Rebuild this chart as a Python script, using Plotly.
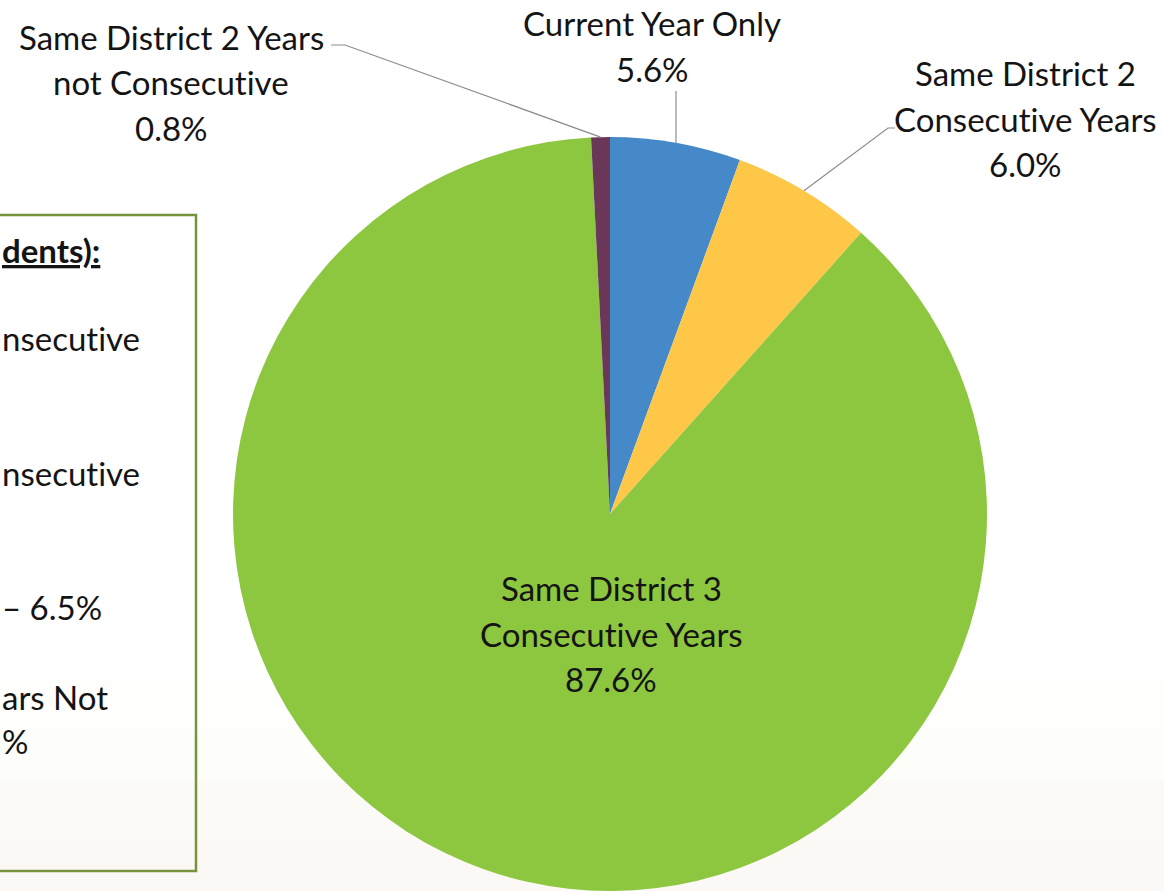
import math
import plotly.graph_objects as go

W, H = 1164, 891

# data
categories = ["Current Year Only", "Same District 2 Consecutive Years",
              "Same District 3 Consecutive Years", "Same District 2 Years not Consecutive"]
shares = [5.6, 6.0, 87.6, 0.8]
colors = ["#4689C8", "#FFC748", "#8DC63F", "#6B3759"]
ZW = "\u200c"  # keeps "ti" from turning into a ligature
label_lines = [
    ["Current Year Only", "5.6%"],
    ["Same District 2", f"Consecut{ZW}ive Years", "6.0%"],
    ["Same District 3", f"Consecut{ZW}ive Years", "87.6%"],
    ["Same District 2 Years", f"not Consecut{ZW}ive", "0.8%"],
]
box_fragments = [f"nsecut{ZW}ive", f"nsecut{ZW}ive", "\u2013 6.5%", "ars Not", "%"]

FONT = "Lato"
SIZE = 33
TXT = "#141414"

# pie placement (pixels)
cx, cy, R = 610, 514, 377
dom_x = [(cx - R) / W, (cx + R) / W]
dom_y = [0, (H - cy + R) / H]


def px(x):
    return x / W


def py(y):
    return 1 - y / H


def edge_point(i):
    # mid-angle of slice i on the rim, clockwise from 12 o'clock
    before = sum(shares[:i])
    mid = (before + shares[i] / 2) / sum(shares) * 2 * math.pi
    return cx + R * math.sin(mid), cy - R * math.cos(mid)


fig = go.Figure(go.Pie(
    labels=categories, values=shares, sort=False, direction="clockwise",
    marker=dict(colors=colors, line=dict(width=0)),
    textinfo="none", hoverinfo="label+percent",
    domain=dict(x=dom_x, y=dom_y), showlegend=False,
))

annotations = []
shapes = []

# faint warm background toward the bottom
for y0, y1, c in [(680, 730, "#FEFEFC"), (730, 780, "#FDFDFA"),
                  (780, 840, "#FCFAF7"), (840, 891, "#FBF8F5")]:
    shapes.append(dict(type="rect", xref="paper", yref="paper", layer="below",
                       x0=0, x1=1, y0=py(y1), y1=py(y0), fillcolor=c, line_width=0))


def add_label(lines, x, y_first, gap=45.5):
    for k, t in enumerate(lines):
        annotations.append(dict(text=t, x=px(x), y=py(y_first + k * gap), xref="paper", yref="paper",
                                showarrow=False, xanchor="center", yanchor="middle",
                                font=dict(family=FONT, size=SIZE, color=TXT)))


add_label(label_lines[0], 652, 23)
add_label(label_lines[1], 1025, 73)
add_label(label_lines[2], 611, 588)
add_label(label_lines[3], 171, 37)

line_style = dict(color="#8C8C8C", width=1.2)

# leader: current year only (vertical)
bx, by = edge_point(0)
shapes.append(dict(type="line", xref="paper", yref="paper",
                   x0=px(bx), y0=py(by), x1=px(bx), y1=py(91), line=line_style))
# leader: 2 consecutive
yx, yy = edge_point(1)
shapes.append(dict(type="path", xref="paper", yref="paper", line=line_style,
                   path=f"M {px(yx)} {py(yy)} L {px(888)} {py(128)} L {px(895)} {py(128)}"))
# leader: not consecutive
ux, uy = edge_point(3)
shapes.append(dict(type="path", xref="paper", yref="paper", line=line_style,
                   path=f"M {px(ux)} {py(uy)} L {px(345)} {py(45)} L {px(331)} {py(45)}"))

# cropped text box on the left
shapes.append(dict(type="rect", xref="paper", yref="paper", x0=px(-20), x1=px(196),
                   y0=py(871), y1=py(215), line=dict(color="#77933C", width=2.5),
                   fillcolor="rgba(0,0,0,0)"))
annotations.append(dict(text="<b><u>dents):</u></b>", x=px(0), y=py(250), xref="paper", yref="paper",
                        showarrow=False, xanchor="left", yanchor="middle",
                        font=dict(family=FONT, size=SIZE, color=TXT)))
for t, yv in zip(box_fragments, [338, 473, 607, 697, 741]):
    annotations.append(dict(text=t, x=px(0), y=py(yv), xref="paper", yref="paper",
                            showarrow=False, xanchor="left", yanchor="middle",
                            font=dict(family=FONT, size=SIZE, color=TXT)))

fig.update_layout(
    width=W, height=H, margin=dict(l=0, r=0, t=0, b=0),
    paper_bgcolor="white", plot_bgcolor="white",
    shapes=shapes, annotations=annotations,
)

fig.write_html("out.html", config={"displayModeBar": False},
               post_script="document.body.style.margin='0';")
